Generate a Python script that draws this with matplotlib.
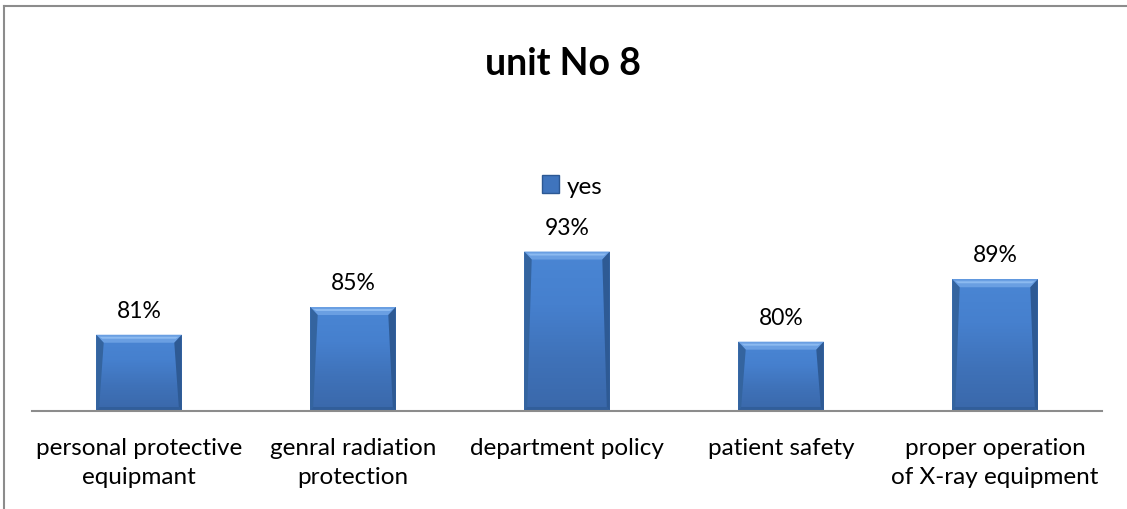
import numpy as np
import matplotlib.pyplot as plt
from matplotlib.patches import Polygon, Rectangle
from matplotlib.colors import LinearSegmentedColormap

# data
categories = ['personal protective\nequipmant', 'genral radiation\nprotection',
              'department policy', 'patient safety',
              'proper operation\nof X-ray equipment']
yes_values = [81, 85, 93, 80, 89]
value_labels = ['81%', '85%', '93%', '80%', '89%']
title = 'unit No 8'
series_name = 'yes'

plt.rcParams['font.family'] = ['Lato', 'DejaVu Sans']

fig = plt.figure(figsize=(11.27, 5.10), dpi=100)
ax = fig.add_axes([32 / 1127, 98 / 510, 1070 / 1127, 208 / 510])
ax.set_xlim(-0.5, len(categories) - 0.5)
ax.set_ylim(70, 100)

x = np.arange(len(categories))
width = 0.40
bars = ax.bar(x, yes_values, width=width, color='#4479c4', edgecolor='none',
              zorder=2, label=series_name)

# pixel -> data sizes for the bevel
px_x = 5 / 1070
px_y = 30 / 208

grad = LinearSegmentedColormap.from_list(
    'g', ['#3a68aa', '#3f72b9', '#4680ce', '#4a86d4'])
vals = np.linspace(0, 1, 100).reshape(-1, 1)

for b in bars:
    x0 = b.get_x()
    x1 = x0 + b.get_width()
    y0 = 70
    y1 = b.get_height()
    im = ax.imshow(vals, cmap=grad, aspect='auto', extent=(x0, x1, y0, y1),
                   origin='lower', zorder=2.1)
    im.set_clip_path(b)
    tb = 8 * px_y
    sb = 3 * px_x
    bb = 4 * px_y
    # top bevel (light)
    ax.add_patch(Polygon([(x0, y1), (x1, y1), (x1 - 2.5 * sb, y1 - tb), (x0 + 2.5 * sb, y1 - tb)],
                         closed=True, facecolor='#6a9fe2', edgecolor='none', zorder=2.3))
    ax.add_patch(Polygon([(x0 + sb, y1 - 2 * px_y), (x1 - sb, y1 - 2 * px_y),
                          (x1 - 2 * sb, y1 - 4 * px_y), (x0 + 2 * sb, y1 - 4 * px_y)],
                         closed=True, facecolor='#8cbaf0', edgecolor='none', zorder=2.35))
    # side bevels (dark)
    ax.add_patch(Polygon([(x0, y1), (x0 + 2.5 * sb, y1 - tb), (x0 + sb, y0 + bb), (x0, y0)],
                         closed=True, facecolor='#34649f', edgecolor='none', zorder=2.3))
    ax.add_patch(Polygon([(x1, y1), (x1 - 2.5 * sb, y1 - tb), (x1 - sb, y0 + bb), (x1, y0)],
                         closed=True, facecolor='#2e5a94', edgecolor='none', zorder=2.3))
    # bottom bevel
    ax.add_patch(Polygon([(x0, y0), (x1, y0), (x1 - sb, y0 + bb), (x0 + sb, y0 + bb)],
                         closed=True, facecolor='#315e9a', edgecolor='none', zorder=2.3))

for xi, v, lab in zip(x, yes_values, value_labels):
    ax.annotate(lab, (xi, v), xytext=(0, 10), textcoords='offset points',
                ha='center', va='bottom', fontsize=16.5, color='black')

for s in ['top', 'right', 'left']:
    ax.spines[s].set_visible(False)
ax.spines['bottom'].set_color('#8c8c8c')
ax.spines['bottom'].set_linewidth(1.5)
ax.set_yticks([])
ax.set_xticks(x)
ax.set_xticklabels(categories, fontsize=17.5, linespacing=1.45)
ax.tick_params(axis='x', length=0, pad=19)

# legend
leg = fig.legend(handles=[Rectangle((0, 0), 1, 1, facecolor='#3f74bd', edgecolor='#2c5894')],
                 labels=[series_name], loc='center', bbox_to_anchor=(572 / 1127, 1 - 187 / 510),
                 frameon=False, fontsize=17.5, handlelength=0.7, handleheight=0.7,
                 handletextpad=0.3, borderpad=0)

fig.text(563 / 1127, 1 - 64 / 510, title, ha='center', va='center',
         fontsize=27, fontweight='bold')

# chart frame (left and top edges visible)
fig.add_artist(plt.Line2D([4 / 1127, 4 / 1127], [0, 1 - 7 / 510], transform=fig.transFigure,
                          color='#8c8c8c', lw=1.5))
fig.add_artist(plt.Line2D([4 / 1127, 1], [1 - 7 / 510, 1 - 7 / 510], transform=fig.transFigure,
                          color='#8c8c8c', lw=1.5))

fig.savefig('out.png', dpi=100)
